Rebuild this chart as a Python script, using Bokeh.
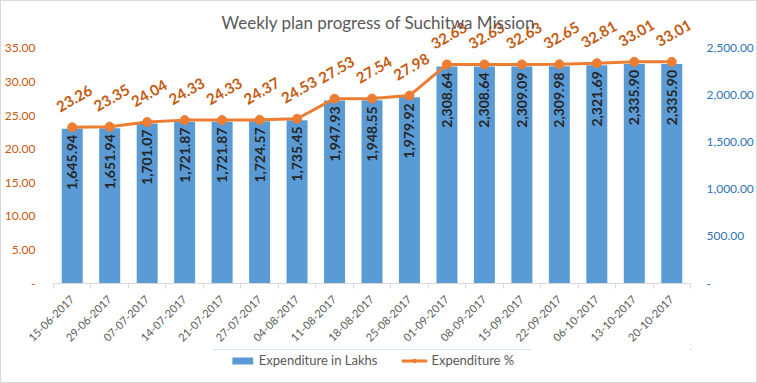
import math
from bokeh.plotting import figure
from bokeh.layouts import column
from bokeh.models import (Range1d, LinearAxis, FixedTicker, NumeralTickFormatter,
                          ColumnDataSource, Legend, LegendItem, CustomJSTickFormatter, Label)
from bokeh.core.properties import value
from bokeh.embed import file_html
from bokeh.resources import INLINE

dates = ["15-06-2017", "29-06-2017", "07-07-2017", "14-07-2017", "21-07-2017",
         "27-07-2017", "04-08-2017", "11-08-2017", "18-08-2017", "25-08-2017",
         "01-09-2017", "08-09-2017", "15-09-2017", "22-09-2017", "06-10-2017",
         "13-10-2017", "20-10-2017"]
expenditure_lakhs = [1645.94, 1651.94, 1701.07, 1721.87, 1721.87, 1724.57, 1735.45,
                     1947.93, 1948.55, 1979.92, 2308.64, 2308.64, 2309.09, 2309.98,
                     2321.69, 2335.90, 2335.90]
expenditure_pct = [23.26, 23.35, 24.04, 24.33, 24.33, 24.37, 24.53, 27.53, 27.54,
                   27.98, 32.63, 32.63, 32.63, 32.65, 32.81, 33.01, 33.01]
left_ticks = [0, 5, 10, 15, 20, 25, 30, 35]
right_ticks = [0, 500, 1000, 1500, 2000, 2500]
series_names = ["Expenditure in Lakhs", "Expenditure %"]
title_text = "Weekly plan progress of Suchitwa Mission"

FONT = "Lato"
BAR_COLOR = "#5B9BD5"
LINE_COLOR = "#ED7D31"
n = len(dates)
xs = [i + 0.5 for i in range(n)]
src = ColumnDataSource(dict(
    x=xs, lakhs=expenditure_lakhs, pct=expenditure_pct,
    ll=[f"{v:,.2f}" for v in expenditure_lakhs],
    pl=[f"{v:.2f}" for v in expenditure_pct],
))

# headroom above 35 so the title and the data labels sit inside the frame
PCT_TOP = 41.4
LAKH_TOP = 2500 / 35 * PCT_TOP

W = 755
p = figure(width=W, height=348, output_backend="svg", toolbar_location=None,
           x_range=Range1d(0, n), y_range=Range1d(0, PCT_TOP),
           min_border_left=52, min_border_right=66, min_border_top=4, min_border_bottom=66)
p.extra_y_ranges = {"lakhs": Range1d(0, LAKH_TOP)}
p.outline_line_color = None
p.xgrid.visible = False
p.ygrid.visible = False

p.add_layout(Label(x=n / 2 + 0.17, y=38.87, text=title_text, text_align="center",
                   text_baseline="middle", text_font=FONT, text_font_size="17px",
                   text_color="#595959"))

# x axis
xa = p.xaxis[0]
xa.ticker = FixedTicker(ticks=xs, minor_ticks=list(range(n + 1)))
xa.formatter = CustomJSTickFormatter(args=dict(labels=dates),
                                     code="return labels[Math.floor(tick)] || '';")
xa.major_label_orientation = math.pi / 4
xa.major_tick_line_color = None
xa.minor_tick_in = 0
xa.minor_tick_out = 5
xa.minor_tick_line_color = "#D9D9D9"
xa.axis_line_color = "#D9D9D9"
xa.major_label_text_font = FONT
xa.major_label_text_font_size = "11px"
xa.major_label_text_color = "#595959"
xa.major_label_standoff = 8

# left axis
ya = p.yaxis[0]
ya.ticker = FixedTicker(ticks=left_ticks)
ya.formatter = NumeralTickFormatter(format="0.00")
ya.major_label_overrides = {0: "-"}
ya.axis_line_color = None
ya.major_tick_line_color = None
ya.minor_tick_line_color = None
ya.major_label_text_font = FONT
ya.major_label_text_font_size = "12px"
ya.major_label_text_color = "#C55A11"
ya.major_label_standoff = 12

# right axis
ra = LinearAxis(y_range_name="lakhs", ticker=FixedTicker(ticks=right_ticks),
                formatter=NumeralTickFormatter(format="0,0.00"))
ra.major_label_overrides = {0: "-"}
ra.axis_line_color = None
ra.major_tick_line_color = None
ra.minor_tick_line_color = None
ra.major_label_text_font = FONT
ra.major_label_text_font_size = "12px"
ra.major_label_text_color = "#2E75B6"
ra.major_label_standoff = 10
p.add_layout(ra, "right")

p.vbar(x="x", top="lakhs", width=0.56, y_range_name="lakhs",
       fill_color=BAR_COLOR, line_color=None, source=src)
p.text(x="x", y="lakhs", text="ll", y_range_name="lakhs", angle=math.pi / 2,
       text_align="right", text_baseline="middle", y_offset=6,
       text_font=value(FONT), text_font_size="14px", text_font_style="bold",
       text_color="#262626", source=src)

p.line(x="x", y="pct", line_color=LINE_COLOR, line_width=3, source=src)
p.scatter(x="x", y="pct", size=9, fill_color=LINE_COLOR, line_color=LINE_COLOR, source=src)
p.text(x="x", y="pct", text="pl", angle=0.52, text_align="center", text_baseline="middle",
       x_offset=2, y_offset=-29, text_font=value(FONT), text_font_size="15px",
       text_font_style="bold", text_color="#C55A11", source=src)

# legend strip: a second figure whose visible range holds none of the data,
# so only the legend (fed by real renderers) shows
lf = figure(width=W, height=33, output_backend="svg", toolbar_location=None,
            x_range=Range1d(0, 1), y_range=Range1d(-2, -1), min_border=0)
lf.axis.visible = False
lf.grid.visible = False
lf.outline_line_color = None
lb = lf.vbar(x="x", top="lakhs", width=0.5, fill_color=BAR_COLOR, line_color=None, source=src)
l_line = lf.line(x="x", y="pct", line_color=LINE_COLOR, line_width=3, source=src)
l_mark = lf.scatter(x="x", y="pct", size=7, fill_color=LINE_COLOR, line_color=LINE_COLOR, source=src)
legend = Legend(items=[LegendItem(label=series_names[0], renderers=[lb]),
                       LegendItem(label=series_names[1], renderers=[l_line, l_mark])],
                orientation="horizontal", location="top_center",
                label_text_font=FONT, label_text_font_size="13px", label_text_color="#595959",
                glyph_width=26, glyph_height=9, spacing=24, label_standoff=4,
                border_line_color=None, background_fill_alpha=0, padding=2, margin=3)
lf.add_layout(legend, "center")

col = column(p, lf, spacing=0)
col.styles = {"border": "1px solid #d9d9d9"}

open("out.html", "w").write(file_html(col, INLINE))
